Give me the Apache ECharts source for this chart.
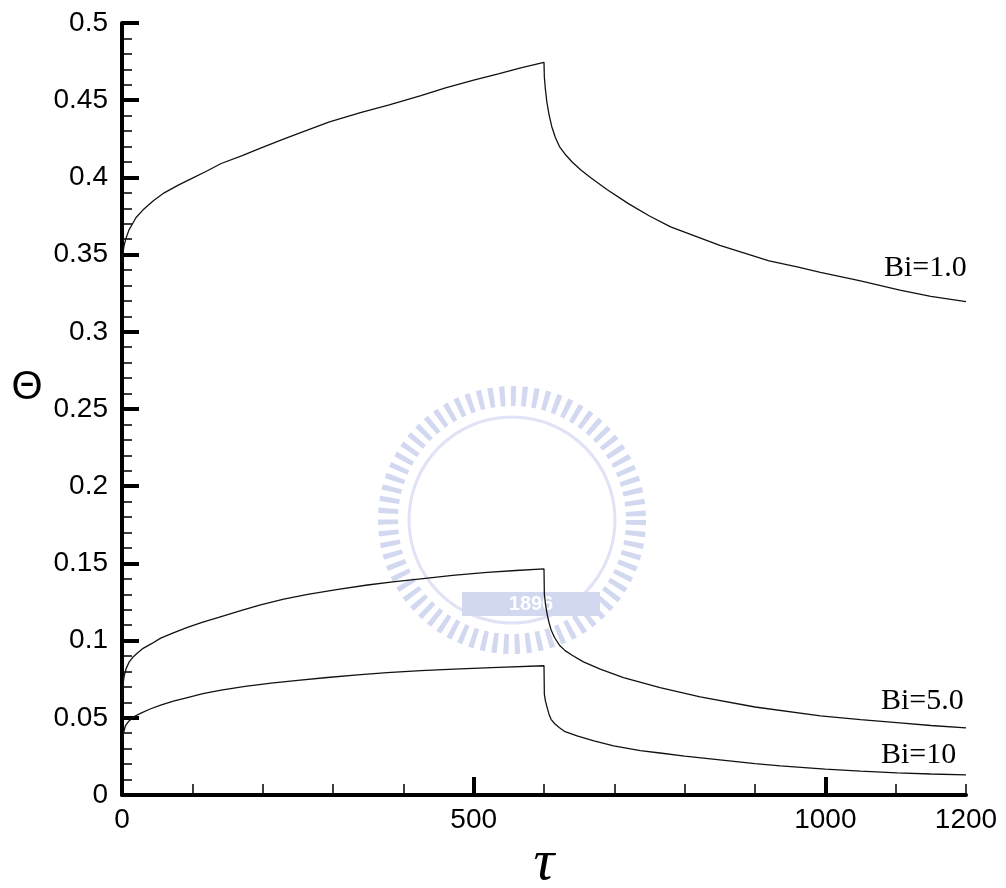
<!DOCTYPE html>
<html>
<head>
<meta charset="utf-8">
<script src="https://cdn.jsdelivr.net/npm/echarts@6/dist/echarts.min.js"></script>
<style>
html,body{margin:0;padding:0;background:#fff;}
#chart{width:1006px;height:888px;}
</style>
</head>
<body>
<div id="chart"></div>
<script>
// ---- data ----
const xTickLabels = [0, 500, 1000, 1200];
const xMajorTicks = [0, 500, 1000];

const seriesNames = ['Bi=1.0', 'Bi=5.0', 'Bi=10'];

const tauBi1 = [0, 1, 3, 6, 10, 15, 20, 30, 45, 60, 80, 98, 120, 141, 170, 197, 225, 254, 295, 339, 380, 425, 460, 500, 535, 567, 600,
  600.5, 602, 604, 607, 611, 616, 622, 630, 640, 652, 666, 690, 720, 750, 780, 815, 850, 885, 920, 960, 993, 1050, 1106, 1150, 1200];
const thetaBi1 = [0.345, 0.35, 0.356, 0.361, 0.366, 0.37, 0.374, 0.379, 0.385, 0.39, 0.395, 0.399, 0.404, 0.409, 0.414, 0.419, 0.424, 0.429, 0.436, 0.442, 0.447, 0.453, 0.458, 0.463, 0.467, 0.471, 0.4745,
  0.465, 0.457, 0.449, 0.441, 0.433, 0.426, 0.42, 0.415, 0.41, 0.405, 0.4, 0.392, 0.383, 0.375, 0.368, 0.362, 0.356, 0.351, 0.346, 0.342, 0.3385, 0.333, 0.327, 0.323, 0.3195];

const tauBi5 = [0, 1, 3, 6, 10, 15, 22, 30, 42, 55, 73, 93, 115, 141, 170, 197, 230, 264, 305, 349, 385, 425, 470, 519, 560, 600,
  600.5, 602, 604.5, 607, 610, 615, 622, 630, 640, 656, 680, 713, 765, 822, 900, 993, 1050, 1106, 1150, 1200];
const thetaBi5 = [0.062, 0.07, 0.077, 0.082, 0.086, 0.089, 0.092, 0.095, 0.098, 0.1016, 0.105, 0.1085, 0.112, 0.1156, 0.1195, 0.1232, 0.1268, 0.130, 0.133, 0.136, 0.138, 0.140, 0.1422, 0.1442, 0.1454, 0.1464,
  0.130, 0.124, 0.117, 0.112, 0.107, 0.102, 0.097, 0.0935, 0.0905, 0.0862, 0.0815, 0.076, 0.0696, 0.0635, 0.057, 0.0512, 0.0488, 0.0467, 0.045, 0.0435];

const tauBi10 = [0, 2, 5, 10, 18, 27, 40, 55, 73, 93, 115, 141, 175, 212, 250, 292, 335, 377, 425, 472, 535, 600,
  600.5, 602, 604.5, 607, 610, 616, 622, 630, 647, 671, 699, 737, 765, 800, 850, 900, 936, 1000, 1050, 1102, 1150, 1200];
const thetaBi10 = [0.034, 0.04, 0.045, 0.048, 0.051, 0.053, 0.0557, 0.0582, 0.0608, 0.0631, 0.0656, 0.0679, 0.0703, 0.0724, 0.0743, 0.0761, 0.0778, 0.0793, 0.0805, 0.0815, 0.0827, 0.0837,
  0.0653, 0.061, 0.0566, 0.0525, 0.049, 0.0458, 0.0435, 0.041, 0.0383, 0.035, 0.0318, 0.0287, 0.0272, 0.0252, 0.0228, 0.0203, 0.0188, 0.0168, 0.0155, 0.0143, 0.0136, 0.013];

const pairs = (t, v) => t.map((x, i) => [x, v[i]]);
const allData = [pairs(tauBi1, thetaBi1), pairs(tauBi5, thetaBi5), pairs(tauBi10, thetaBi10)];

const chart = echarts.init(document.getElementById('chart'), null, {renderer: 'canvas'});

const labelFont = 'Liberation Sans, Arial, sans-serif';
const serif = 'Liberation Serif, Times New Roman, serif';

const option = {
  backgroundColor: '#ffffff',
  animation: false,
  grid: {left: 122, right: 40, top: 23, bottom: 93, containLabel: false},
  xAxis: [
    {
      type: 'value', min: 0, max: 1200, interval: 500,
      axisLine: {show: true, lineStyle: {color: '#000', width: 4}},
      axisTick: {show: true, inside: true, length: 18, customValues: xMajorTicks, lineStyle: {color: '#000', width: 4}},
      axisLabel: {show: true, customValues: xTickLabels, margin: 11, color: '#000', fontSize: 28, fontFamily: labelFont,
        formatter: v => String(v)},
      splitLine: {show: false}
    },
    {
      type: 'value', min: 0, max: 1200, interval: 100, position: 'bottom',
      axisLine: {show: false},
      axisTick: {show: true, inside: true, length: 11, lineStyle: {color: '#000', width: 1.5}},
      axisLabel: {show: false},
      splitLine: {show: false}
    }
  ],
  yAxis: {
    type: 'value', min: 0, max: 0.5, interval: 0.05,
    axisLine: {show: true, lineStyle: {color: '#000', width: 4}},
    axisTick: {show: true, inside: true, length: 17, lineStyle: {color: '#000', width: 4}},
    minorTick: {show: true, splitNumber: 5, length: 10, lineStyle: {color: '#000', width: 1.5}},
    axisLabel: {margin: 14, color: '#000', fontSize: 28, fontFamily: labelFont},
    splitLine: {show: false},
    minorSplitLine: {show: false}
  },
  series: allData.map((d, i) => ({
    name: seriesNames[i],
    type: 'line',
    xAxisIndex: 0,
    data: d,
    showSymbol: false,
    symbol: 'none',
    smooth: false,
    lineStyle: {color: '#111', width: 1.3},
    z: 5
  })),
  graphic: [
    // faint watermark approximation
    {type: 'circle', shape: {cx: 512, cy: 520, r: 124}, style: {fill: 'none', stroke: '#d3d8f1', lineWidth: 20, lineDash: [5, 6]}, z: 0, silent: true},
    {type: 'circle', shape: {cx: 512, cy: 520, r: 103}, style: {fill: 'none', stroke: '#e0e3f5', lineWidth: 3}, z: 0, silent: true},
    {type: 'rect', shape: {x: 462, y: 592, width: 138, height: 24}, style: {fill: '#d3d8f1'}, z: 0, silent: true},
    {type: 'text', x: 531, y: 604, style: {text: '1896', fill: '#ffffff', font: 'bold 20px ' + labelFont, align: 'center', verticalAlign: 'middle'}, z: 0, silent: true},
    // curve labels
    {type: 'text', x: 884, y: 268, style: {text: seriesNames[0], fill: '#000', font: '30px ' + serif, align: 'left', verticalAlign: 'middle'}, z: 10},
    {type: 'text', x: 881, y: 701, style: {text: seriesNames[1], fill: '#000', font: '30px ' + serif, align: 'left', verticalAlign: 'middle'}, z: 10},
    {type: 'text', x: 881, y: 755, style: {text: seriesNames[2], fill: '#000', font: '30px ' + serif, align: 'left', verticalAlign: 'middle'}, z: 10},
    // axis titles
    {type: 'text', x: 27, y: 388, style: {text: 'Θ', fill: '#000', font: '40px ' + labelFont, align: 'center', verticalAlign: 'middle'}, z: 10},
    {type: 'text', x: 544, y: 864, style: {text: 'τ', fill: '#000', font: 'italic 58px ' + serif, align: 'center', verticalAlign: 'middle'}, z: 10}
  ]
};
chart.setOption(option);
</script>
</body>
</html>
